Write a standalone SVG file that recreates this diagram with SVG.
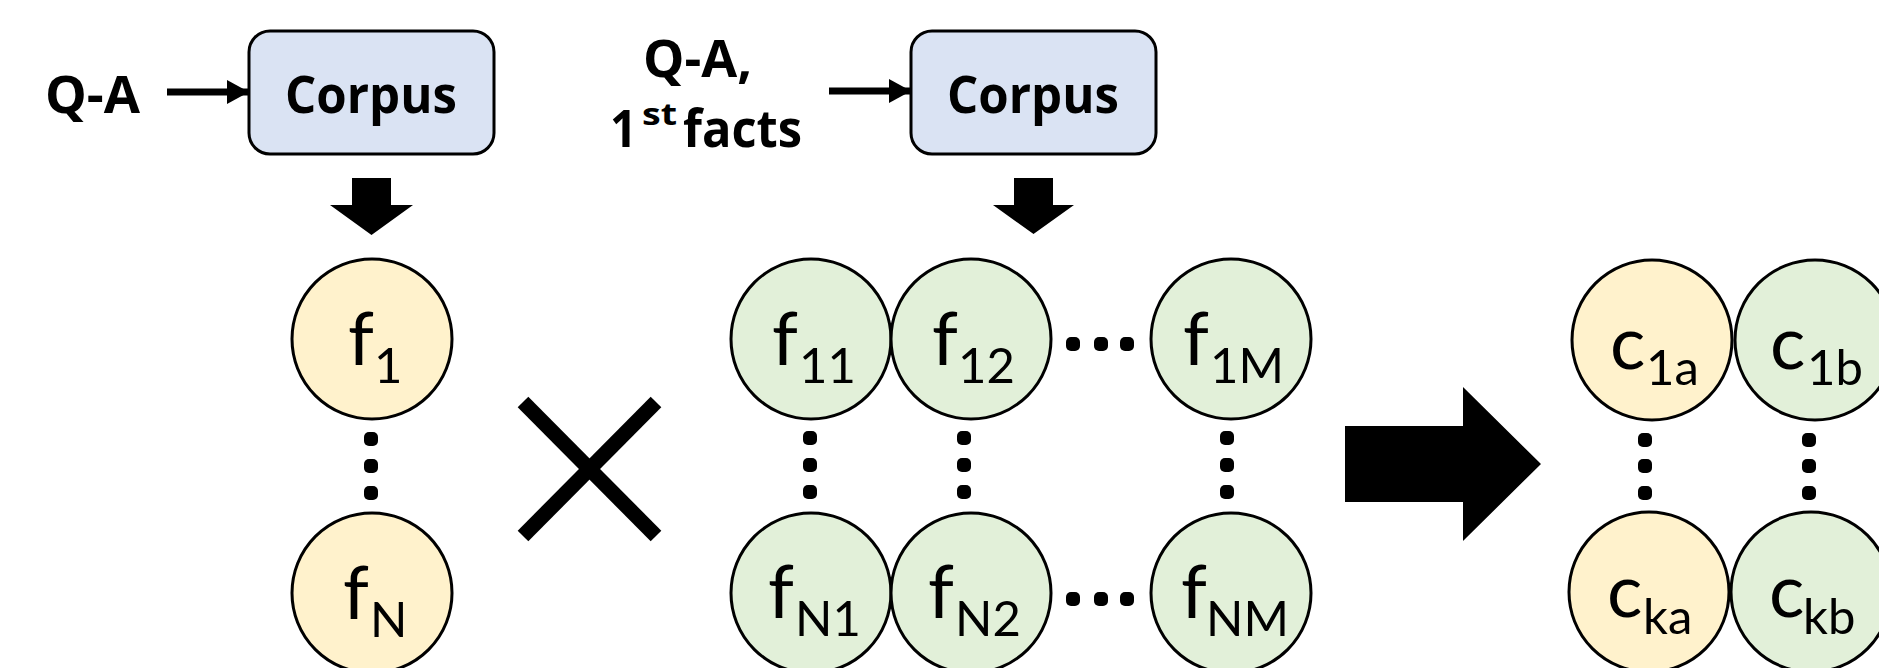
<svg xmlns="http://www.w3.org/2000/svg" width="1879" height="668" viewBox="0 0 1879 668">
<style>
.bg{fill:#ffffff}
.box{fill:#dae3f3;stroke:#000;stroke-width:3}
.yel{fill:#fff2cc;stroke:#000;stroke-width:3}
.grn{fill:#e2f0d9;stroke:#000;stroke-width:3}
.bold{font-family:"Open Sans",Lato,"Liberation Sans",sans-serif;font-weight:700;font-size:52px;fill:#000}
.sup{font-family:"Open Sans",Lato,"Liberation Sans",sans-serif;font-weight:700;font-size:30px;fill:#000}
.lbl{font-family:Lato,"Liberation Sans",sans-serif;font-size:74px;fill:#000}
.sub{font-size:49px}
.dot{fill:#000}
.thin{stroke:#000;stroke-width:7;fill:none}
.blk{fill:#000}
.x{stroke:#000;stroke-width:15;stroke-linecap:butt}
</style>
<defs>
<marker id="ah" markerUnits="userSpaceOnUse" markerWidth="24" markerHeight="26" refX="22" refY="12" orient="auto">
<path d="M0,0 L22,12 L0,24 Z" fill="#000"/>
</marker>
</defs>
<rect class="bg" x="0" y="0" width="1879" height="668"/>

<g id="label-qa1">
<text class="bold" x="45" y="113" textLength="95" lengthAdjust="spacingAndGlyphs">Q-A</text>
</g>
<g id="corpus1">
<rect class="box" x="249" y="31" width="245" height="123" rx="21"/>
<text class="bold" x="285" y="113" textLength="172" lengthAdjust="spacingAndGlyphs">Corpus</text>
</g>
<g id="label-qa2">
<text class="bold" x="643" y="77" textLength="109" lengthAdjust="spacingAndGlyphs">Q-A,</text>
<text class="bold" x="610" y="147" textLength="27" lengthAdjust="spacingAndGlyphs">1</text>
<text class="sup" x="642" y="125" textLength="35" lengthAdjust="spacingAndGlyphs">st</text>
<text class="bold" x="683" y="147" textLength="119" lengthAdjust="spacingAndGlyphs">facts</text>
</g>
<g id="corpus2">
<rect class="box" x="911" y="31" width="245" height="123" rx="21"/>
<text class="bold" x="947" y="113" textLength="172" lengthAdjust="spacingAndGlyphs">Corpus</text>
</g>

<g id="connectors">
<line class="thin" x1="167" y1="92" x2="249" y2="92" marker-end="url(#ah)"/>
<line class="thin" x1="829" y1="91" x2="911" y2="91" marker-end="url(#ah)"/>
<polygon class="blk" points="352,178 391,178 391,205 413,205 371.5,235 330,205 352,205"/>
<polygon class="blk" points="1014,178 1053,178 1053,205 1074,205 1033.5,234 993,205 1014,205"/>
<line class="x" x1="523" y1="402" x2="656" y2="536"/>
<line class="x" x1="656" y1="402" x2="523" y2="536"/>
<polygon class="blk" points="1345,426 1463,426 1463,387 1541,464 1463,541 1463,502 1345,502"/>
</g>

<g id="f1"><circle class="yel" cx="372" cy="339" r="80"/><text class="lbl"><tspan x="348" y="365">f</tspan><tspan class="sub" x="374" y="383">1</tspan></text></g>
<g id="fN"><circle class="yel" cx="372" cy="593" r="80"/><text class="lbl"><tspan x="343" y="619">f</tspan><tspan class="sub" x="370" y="637">N</tspan></text></g>

<g id="f11"><circle class="grn" cx="811" cy="339" r="80"/><text class="lbl"><tspan x="772" y="365">f</tspan><tspan class="sub" x="799" y="383">11</tspan></text></g>
<g id="f12"><circle class="grn" cx="971" cy="339" r="80"/><text class="lbl"><tspan x="932" y="365">f</tspan><tspan class="sub" x="958" y="383">12</tspan></text></g>
<g id="f1M"><circle class="grn" cx="1231" cy="339" r="80"/><text class="lbl"><tspan x="1183" y="365">f</tspan><tspan class="sub" x="1210" y="383">1M</tspan></text></g>
<g id="fN1"><circle class="grn" cx="811" cy="593" r="80"/><text class="lbl"><tspan x="768" y="618">f</tspan><tspan class="sub" x="795" y="636">N1</tspan></text></g>
<g id="fN2"><circle class="grn" cx="971" cy="593" r="80"/><text class="lbl"><tspan x="928" y="618">f</tspan><tspan class="sub" x="955" y="636">N2</tspan></text></g>
<g id="fNM"><circle class="grn" cx="1231" cy="593" r="80"/><text class="lbl"><tspan x="1181" y="618">f</tspan><tspan class="sub" x="1206" y="636">NM</tspan></text></g>

<g id="c1a"><circle class="yel" cx="1652" cy="340" r="80"/><text class="lbl"><tspan x="1610" y="369">c</tspan><tspan class="sub" x="1646" y="385">1a</tspan></text></g>
<g id="c1b"><circle class="grn" cx="1815" cy="340" r="80"/><text class="lbl"><tspan x="1770" y="369">c</tspan><tspan class="sub" x="1807" y="385">1b</tspan></text></g>
<g id="cka"><circle class="yel" cx="1649" cy="592" r="80"/><text class="lbl"><tspan x="1607" y="617">c</tspan><tspan class="sub" x="1643" y="634">ka</tspan></text></g>
<g id="ckb"><circle class="grn" cx="1811" cy="592" r="80"/><text class="lbl"><tspan x="1769" y="617">c</tspan><tspan class="sub" x="1803" y="634">kb</tspan></text></g>

<g id="dots">
<rect class="dot" x="364" y="432" width="14" height="14" rx="5"/><rect class="dot" x="364" y="459" width="14" height="14" rx="5"/><rect class="dot" x="364" y="486" width="14" height="14" rx="5"/>
<rect class="dot" x="803" y="431" width="14" height="14" rx="5"/><rect class="dot" x="803" y="458" width="14" height="14" rx="5"/><rect class="dot" x="803" y="485" width="14" height="14" rx="5"/>
<rect class="dot" x="957" y="431" width="14" height="14" rx="5"/><rect class="dot" x="957" y="458" width="14" height="14" rx="5"/><rect class="dot" x="957" y="485" width="14" height="14" rx="5"/>
<rect class="dot" x="1220" y="431" width="14" height="14" rx="5"/><rect class="dot" x="1220" y="458" width="14" height="14" rx="5"/><rect class="dot" x="1220" y="485" width="14" height="14" rx="5"/>
<rect class="dot" x="1066" y="337" width="14" height="14" rx="5"/><rect class="dot" x="1094" y="337" width="14" height="14" rx="5"/><rect class="dot" x="1120" y="337" width="14" height="14" rx="5"/>
<rect class="dot" x="1066" y="592" width="14" height="14" rx="5"/><rect class="dot" x="1094" y="592" width="14" height="14" rx="5"/><rect class="dot" x="1120" y="592" width="14" height="14" rx="5"/>
<rect class="dot" x="1638" y="433" width="14" height="14" rx="5"/><rect class="dot" x="1638" y="459" width="14" height="14" rx="5"/><rect class="dot" x="1638" y="486" width="14" height="14" rx="5"/>
<rect class="dot" x="1802" y="433" width="14" height="14" rx="5"/><rect class="dot" x="1802" y="459" width="14" height="14" rx="5"/><rect class="dot" x="1802" y="486" width="14" height="14" rx="5"/>
</g>
</svg>
